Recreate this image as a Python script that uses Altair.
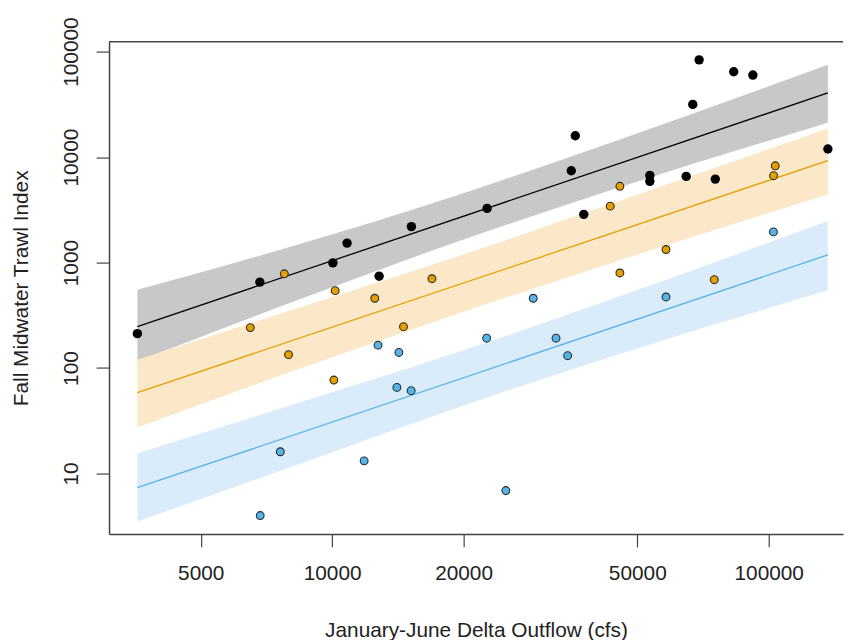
import altair as alt
import pandas as pd

# ---- data ----
black_x = [3580, 6830, 10040, 10820, 12810, 15190, 22640, 35300, 36050, 37700,
           53420, 53420, 64710, 66990, 69270, 75440, 83150, 91980, 136600]
black_y = [212, 653, 993, 1531, 743, 2193, 3263, 7420, 15920, 2866,
           6703, 5888, 6560, 31590, 83560, 6187, 64500, 59920, 11940]

orange_x = [6495, 7770, 7946, 10160, 10090, 12520, 14570, 16930, 43350, 45610,
            45610, 58170, 75040, 102600, 103500]
orange_y = [242, 783, 134, 542, 77, 459, 247, 703, 3428, 5285,
            797, 1331, 688, 6660, 8270]

blue_x = [6843, 7608, 11840, 12740, 14070, 14220, 15170, 22590, 25000, 28880,
          32570, 34630, 58170, 102500]
blue_y = [4.0, 16.1, 13.2, 165, 65.6, 140.7, 61.1, 192, 6.9, 459,
          192, 131, 472, 1954]

# fitted lines (end points)
fit_x = [3580, 136600]
black_fit = [247, 40600]
orange_fit = [58.5, 9270]
blue_fit = [7.34, 1181]

# confidence bands
band_x = [3580, 8315, 19190, 44260, 136600]
black_lo = [115.8, 439, 1561, 4985, 21220]
black_hi = [554, 1476, 4312, 14070, 74990]
orange_lo = [27.4, 96.8, 322, 1009, 4416]
orange_hi = [120.2, 370, 1129, 3690, 18640]
blue_lo = [3.52, 12.1, 41.7, 131, 546]
blue_hi = [15.6, 46.4, 139.8, 459, 2480]

x_ticks = [5000, 10000, 20000, 50000, 100000]
y_ticks = [10, 100, 1000, 10000, 100000]

W, H = 741, 497
FONT = "Liberation Sans"
FS = 21
TXT = "#222222"
AX = "#444444"

xscale = alt.Scale(type="log", domain=[3083, 147970], nice=False, zero=False)
yscale = alt.Scale(type="log", domain=[2.674, 124150], nice=False, zero=False)

xaxis = alt.Axis(values=x_ticks, format="d", title="January-June Delta Outflow (cfs)",
                 grid=False, tickSize=13, tickColor=AX, tickWidth=1.2,
                 domainColor=AX, domainWidth=1.5, labelFont=FONT, labelFontSize=FS,
                 labelColor=TXT, labelPadding=27, labelBaseline="middle",
                 labelFlush=False, labelOverlap=False,
                 titleFont=FONT, titleFontSize=FS, titleColor=TXT,
                 titleFontWeight="normal", titleY=97, titleBaseline="middle")
yaxis = alt.Axis(values=y_ticks, format="d", title="Fall Midwater Trawl Index",
                 grid=False, tickSize=13, tickColor=AX, tickWidth=1.2,
                 domainColor=AX, domainWidth=1.5, labelFont=FONT, labelFontSize=FS,
                 labelColor=TXT, labelPadding=25, labelAngle=270,
                 labelAlign="center", labelBaseline="middle",
                 labelFlush=False, labelOverlap=False,
                 titleFont=FONT, titleFontSize=FS, titleColor=TXT,
                 titleFontWeight="normal", titleX=-88, titleAngle=270,
                 titleBaseline="middle", titleAlign="center")

groups = [
    ("black", black_x, black_y, black_fit, black_lo, black_hi, "#000000", "#C8C8C8", "#000000"),
    ("orange", orange_x, orange_y, orange_fit, orange_lo, orange_hi, "#E69F00", "#FBE8C8", "#E69F00"),
    ("blue", blue_x, blue_y, blue_fit, blue_lo, blue_hi, "#56B4E9", "#DAECFA", "#56B4E9"),
]

bands, lines, points = [], [], []
for name, gx, gy, gfit, glo, ghi, col, bandcol, linecol in groups:
    bdf = pd.DataFrame({"x": band_x, "lo": glo, "hi": ghi})
    bands.append(alt.Chart(bdf).mark_area(color=bandcol, opacity=1, interpolate="monotone").encode(
        x=alt.X("x:Q", scale=xscale, axis=xaxis),
        y=alt.Y("lo:Q", scale=yscale, axis=yaxis),
        y2="hi:Q"))
    ldf = pd.DataFrame({"x": fit_x, "y": gfit})
    lines.append(alt.Chart(ldf).mark_line(color=linecol, strokeWidth=1.3).encode(
        x=alt.X("x:Q", scale=xscale, axis=xaxis),
        y=alt.Y("y:Q", scale=yscale, axis=yaxis)))
    pdf = pd.DataFrame({"x": gx, "y": gy})
    if name == "black":
        pm = alt.Chart(pdf).mark_point(shape="circle", filled=True, color="#000000", size=90, opacity=1)
    else:
        pm = alt.Chart(pdf).mark_point(shape="circle", filled=True, fill=col, stroke="#2a2a2a",
                                       strokeWidth=1.1, size=62, opacity=1)
    points.append(pm.encode(
        x=alt.X("x:Q", scale=xscale, axis=xaxis),
        y=alt.Y("y:Q", scale=yscale, axis=yaxis)))

top_border = alt.Chart(pd.DataFrame({"a": [0]})).mark_rule(color=AX, strokeWidth=1.5).encode(
    x=alt.value(0), x2=alt.value(W), y=alt.value(0))

chart = alt.layer(*bands, *lines, *points, top_border).properties(
    width=W, height=H,
    autosize=alt.AutoSizeParams(type="none"),
    padding={"left": 102, "top": 31, "right": 2, "bottom": 104},
    background="white",
).configure_view(stroke=None)

chart.save("out.html", embed_options={"renderer": "svg", "actions": False})
